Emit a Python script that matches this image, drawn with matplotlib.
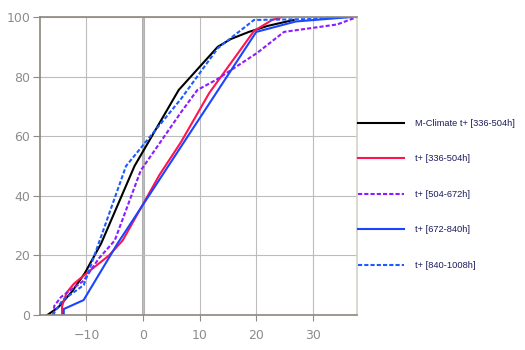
import matplotlib.pyplot as plt

# cumulative distribution points (value, percent) per forecast window
mclim_x = [-16.9, -15.0, -12.5, -10.3, -7.4, -1.5, 6.3, 13.2, 15.5, 18.7, 22.0, 26.6]
mclim_y = [0, 2.5, 8, 14, 24, 50, 75.5, 90, 92.6, 95, 97, 99]

w336_x = [-14.3, -14.3, -13.5, -12.2, -10.3, -6.0, -3.6, 2.9, 6.7, 11.7, 19.6, 22.8, 24.6]
w336_y = [0, 3, 7.5, 10.5, 13.5, 20, 25, 47, 58, 74.5, 95.3, 99, 100]

w504_x = [-15.7, -15.7, -14.5, -10.5, -7.8, -5.0, -0.4, 6.7, 9.6, 13.0, 20.2, 24.9, 34.3, 37.8]
w504_y = [0, 3, 6, 11.5, 19, 25, 48.5, 68, 75.5, 79, 88, 95, 97.5, 100]

w672_x = [-14.0, -14.0, -10.5, -4.5, 20.0, 27.0, 36.7]
w672_y = [0, 2, 5, 24, 95, 98.5, 100]

w840_x = [-16.0, -14.2, -11.6, -10.5, -9.8, -3.0, 6.7, 13.2, 19.6, 29.5, 36.5]
w840_y = [0, 5, 8.5, 10, 13.5, 50, 72.5, 89.5, 99, 99.3, 100]

series = [
    (mclim_x, mclim_y, 'M-Climate t+ [336-504h]', '#000000', '-'),
    (w336_x, w336_y, 't+ [336-504h]', '#ff1450', '-'),
    (w504_x, w504_y, 't+ [504-672h]', '#8a1cff', (0, (2, 1))),
    (w672_x, w672_y, 't+ [672-840h]', '#1a44ff', '-'),
    (w840_x, w840_y, 't+ [840-1008h]', '#1a5cff', (0, (2, 1))),
]

fig = plt.figure(figsize=(5.25, 3.5), dpi=100)
ax = fig.add_axes([40 / 525, 35 / 350, 317 / 525, 298 / 350])

for x, y, label, color, ls in series:
    ax.plot(x, y, color=color, linestyle=ls, linewidth=1.5, label=label)

ax.set_xlim(-18.2, 37.8)
ax.set_ylim(0, 100)
ax.set_xticks([-10, 0, 10, 20, 30])
ax.set_yticks([0, 20, 40, 60, 80, 100])

ax.grid(True, color='#bcbcbc', linewidth=0.8)
ax.axvline(0, color='#b0b0b0', linewidth=2.2, zorder=0.5)
ax.set_axisbelow(True)

for side in ['left', 'bottom', 'top']:
    ax.spines[side].set_color('#8c867d')
    ax.spines[side].set_linewidth(1.2)
ax.spines['right'].set_color('#d6d2ca')
ax.spines['right'].set_linewidth(1.2)

ax.tick_params(axis='y', colors='#8c8c8c', labelsize=9, length=5, width=0.8, pad=2)
ax.tick_params(axis='x', colors='#8c8c8c', labelsize=9, length=4, width=0.8, pad=6)

leg = ax.legend(loc='center left', bbox_to_anchor=(1.0, 0.405), frameon=False,
                prop={'family': 'Liberation Sans', 'size': 6.7},
                handlelength=5.0, handletextpad=1.1, labelspacing=2.85,
                borderpad=0, borderaxespad=0.1)
for t in leg.get_texts():
    t.set_color('#1c1c5c')

fig.savefig('out.png', dpi=100)
